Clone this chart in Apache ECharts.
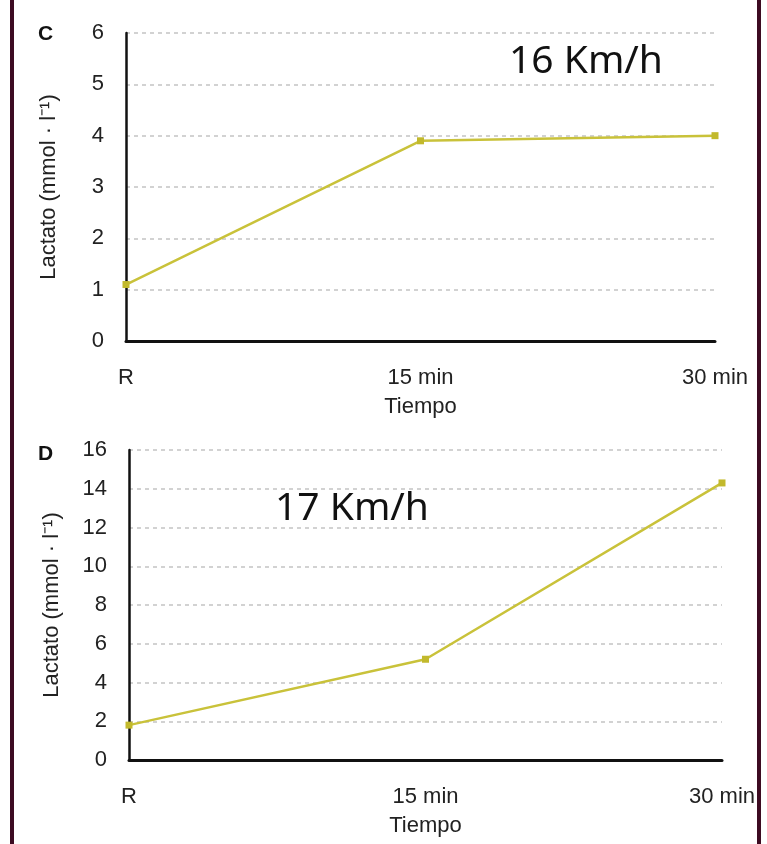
<!DOCTYPE html>
<html>
<head>
<meta charset="utf-8">
<script src="https://cdn.jsdelivr.net/npm/echarts@6/dist/echarts.min.js"></script>
<style>html,body{margin:0;padding:0;background:#fff}#c{width:767px;height:844px}</style>
</head>
<body>
<div id="c"></div>
<script>
var categories = ['R', '15 min', '30 min'];
var valuesC = [1.1, 3.9, 4.0];
var valuesD = [1.8, 5.2, 14.3];
var ticksC = {min: 0, max: 6, interval: 1};
var ticksD = {min: 0, max: 16, interval: 2};
var labelC = '16 Km/h';
var labelD = '17 Km/h';
var yName = 'Lactato (mmol · l\u207B\u00B9)';
var xName = 'Tiempo';

var lineColor = '#c9c23a';
var markerColor = '#c2b92c';
var font = 'Liberation Sans';
var fs = 22;
var chart = echarts.init(document.getElementById('c'));

function xAxis(idx) {
  return {
    type: 'category', gridIndex: idx, data: categories, boundaryGap: false,
    axisLine: {lineStyle: {color: '#111', width: 3}},
    axisTick: {show: false},
    axisLabel: {color: '#222', fontSize: fs, fontFamily: font, margin: 26},
    name: xName, nameLocation: 'middle', nameGap: 55,
    nameTextStyle: {color: '#222', fontSize: fs, fontFamily: font},
    splitLine: {show: false}
  };
}
function yAxis(idx, t) {
  return {
    type: 'value', gridIndex: idx, min: t.min, max: t.max, interval: t.interval,
    axisLine: {show: true, lineStyle: {color: '#111', width: 2.5}},
    axisTick: {show: false},
    axisLabel: {color: '#222', fontSize: fs, fontFamily: font, margin: 22},
    name: yName, nameLocation: 'middle', nameGap: 66, nameRotate: 90,
    nameTextStyle: {color: '#222', fontSize: fs, fontFamily: font},
    splitLine: {show: true, lineStyle: {color: '#c4c4c4', type: [4, 4], width: 1.5}}
  };
}
function series(idx, vals) {
  return {
    type: 'line', xAxisIndex: idx, yAxisIndex: idx, data: vals,
    symbol: 'rect', symbolSize: 7, showSymbol: true,
    lineStyle: {color: lineColor, width: 2.5},
    itemStyle: {color: markerColor},
    animation: false
  };
}

chart.setOption({
  backgroundColor: '#fff',
  animation: false,
  grid: [
    {left: 126, top: 33, right: 52, height: 308},
    {left: 129, top: 450, right: 45, height: 310}
  ],
  xAxis: [xAxis(0), xAxis(1)],
  yAxis: [yAxis(0, ticksC), yAxis(1, ticksD)],
  series: [series(0, valuesC), series(1, valuesD)],
  graphic: [
    {type: 'rect', shape: {x: 10, y: 0, width: 4, height: 844}, style: {fill: '#3d0b22'}},
    {type: 'rect', shape: {x: 757, y: 0, width: 4, height: 844}, style: {fill: '#3d0b22'}},
    {type: 'text', left: 38, top: 24, style: {text: 'C', font: 'bold 21px "Liberation Sans"', fill: '#111'}},
    {type: 'text', left: 38, top: 444, style: {text: 'D', font: 'bold 21px "Liberation Sans"', fill: '#111'}},
    {type: 'text', left: 509, top: 42, style: {text: labelC, font: '39px "Noto Sans"', fill: '#111'}},
    {type: 'text', left: 275, top: 489, style: {text: labelD, font: '39px "Noto Sans"', fill: '#111'}}
  ]
});
</script>
</body>
</html>
